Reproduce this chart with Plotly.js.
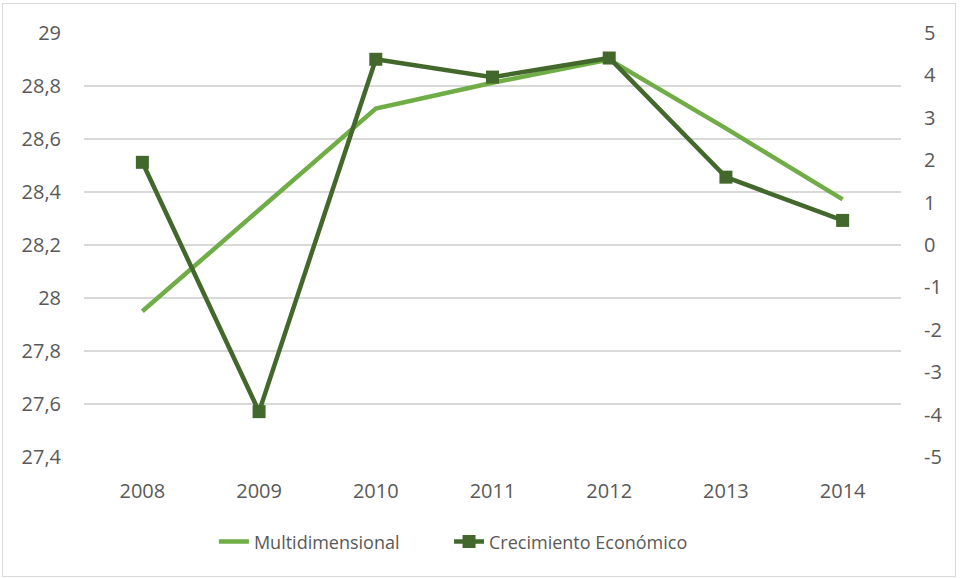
<!DOCTYPE html>
<html>
<head>
<meta charset="utf-8">
<script src="https://cdn.plot.ly/plotly-3.0.1.min.js"></script>
<style>
  body { margin: 0; background: #fff; }
  #wrap { position: relative; width: 961px; height: 578px; }
  #chart { width: 961px; height: 578px; }
  #frame { position: absolute; left: 2px; top: 3px; width: 952px; height: 572px; border: 1px solid #d9d9d9; pointer-events: none; }
</style>
</head>
<body>
<div id="wrap"><div id="chart"></div><div id="frame"></div></div>
<script>
const years = ['2008', '2009', '2010', '2011', '2012', '2013', '2014'];
const multidimensional = [27.95, 28.33, 28.715, 28.812, 28.9, 28.64, 28.372];
const crecimiento = [1.95, -3.93, 4.38, 3.96, 4.41, 1.6, 0.58];
const rightTickVals = [5, 4, 3, 2, 1, 0, -1, -2, -3, -4, -5];
const rightTickText = ['5', '4', '3', '2', '1', '0', '-1', '-2', '-3', '-4', '-5'];
const seriesNames = ['Multidimensional', 'Crecimiento Económico'];

const FONT = 'Open Sans, Noto Sans, sans-serif';
const FS = 20;
const legendFont = { family: FONT, size: 18, color: '#595959' };
const traces = [
  {
    x: years, y: multidimensional, name: seriesNames[0], type: 'scatter', mode: 'lines',
    line: { color: '#70AD47', width: 4.5 }, yaxis: 'y', legend: 'legend'
  },
  {
    x: years, y: crecimiento, name: seriesNames[1], type: 'scatter', mode: 'lines+markers',
    line: { color: '#43682B', width: 4.5 },
    marker: { symbol: 'square', size: 13, color: '#43682B' }, yaxis: 'y2', legend: 'legend2'
  }
];

const layout = {
  width: 961, height: 578,
  margin: { l: 84, r: 60, t: 33, b: 121 },
  paper_bgcolor: '#ffffff', plot_bgcolor: '#ffffff',
  separators: ', ',
  font: { family: FONT, size: FS, color: '#595959' },
  showlegend: true,
  legend: {
    orientation: 'h', x: 0.159, xanchor: 'left', y: -0.2, yanchor: 'middle',
    font: legendFont
  },
  legend2: {
    orientation: 'h', x: 0.4468, xanchor: 'left', y: -0.2, yanchor: 'middle',
    font: legendFont
  },
  xaxis: {
    type: 'category', range: [-0.5, 6.5], showgrid: false, zeroline: false,
    showline: false, ticks: '', ticklabelstandoff: 20,
    tickfont: { family: FONT, size: FS, color: '#595959' }
  },
  yaxis: {
    range: [27.4, 29], dtick: 0.2, tick0: 27.4, showgrid: true, gridcolor: '#d9d9d9', gridwidth: 1.3,
    zeroline: false, showline: false, ticks: '', ticklabelstandoff: 22,
    tickfont: { family: FONT, size: FS, color: '#595959' }
  },
  yaxis2: {
    overlaying: 'y', side: 'right', range: [-5, 5],
    tickvals: rightTickVals, ticktext: rightTickText,
    showgrid: false, zeroline: false, showline: false, ticks: '', ticklabelstandoff: 22,
    tickfont: { family: FONT, size: FS, color: '#595959' }
  }
};

Plotly.newPlot('chart', traces, layout, { staticPlot: true, displayModeBar: false });
</script>
</body>
</html>
